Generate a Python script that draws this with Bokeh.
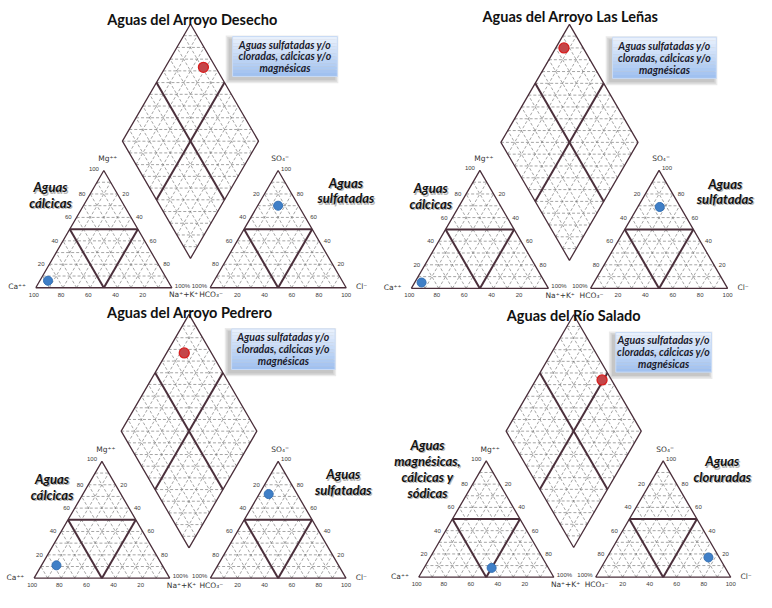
import numpy as np
from bokeh.plotting import figure
from bokeh.models import Range1d
from bokeh.embed import file_html
from bokeh.resources import INLINE
from bokeh.core.properties import value

# ---------------- data ----------------
titles = ["Aguas del Arroyo Desecho", "Aguas del Arroyo Las Leñas",
          "Aguas del Arroyo Pedrero", "Aguas del Río Salado"]
box_lines = ["Aguas sulfatadas y/o", "cloradas, cálcicas y/o", "magnésicas"]
cation_names = [["Aguas", "cálcicas"], ["Aguas", "cálcicas"], ["Aguas", "cálcicas"],
                ["Aguas", "magnésicas,", "cálcicas y", "sódicas"]]
anion_names = [["Aguas", "sulfatadas"], ["Aguas", "sulfatadas"], ["Aguas", "sulfatadas"],
               ["Aguas", "cloruradas"]]

# cations (%)
ca = [88, 90, 78, 42]
mg = [6, 5, 11, 8]
nak = [6, 5, 11, 50]
# anions (%)
hco3 = [15, 15, 21, 8]
so4 = [70, 69, 72, 17]
cl = [15, 16, 7, 75]
# central diamond (%)
camg_d = [72, 94, 87, 51]
so4cl_d = [91, 86, 80, 93]

tick_vals = [20, 40, 60, 80, 100]

# ---------------- layout (image pixel coordinates) ----------------
panels = [
    dict(xl=36, xr=214, yb=295, L=139, dcx=194, dcy=144.5, title=(196, 19),
         box=(237, 344, 37, 78), lab_l=(51, 192), lab_r=(352.7, 187)),
    dict(xl=419.5, xr=602.5, yb=295.7, L=140, dcx=581, dcy=145.7, title=(582, 16.7),
         box=(625, 731, 37.7, 80), lab_l=(439.3, 193), lab_r=(740, 188)),
    dict(xl=34.3, xr=214.3, yb=593.3, L=138.5, dcx=192.5, dcy=442.3, title=(193.3, 320),
         box=(236, 341.7, 337.3, 379), lab_l=(52.7, 491.7), lab_r=(350, 486.7)),
    dict(xl=427, xr=607.7, yb=592.3, L=138, dcx=585.3, dcy=442.3, title=(585.3, 323.3),
         box=(628.3, 726, 341, 381.7), lab_l=(436, 456.7), lab_r=(737, 473.3)),
]

H = np.sqrt(3) / 2


def tri_xy(x0, yb, L, A, B, C):
    return x0 + L * (C + B / 2.0), yb - L * H * B


def dia_xy(q, a, c):
    L = q["L"]
    bx, by = q["dcx"], q["dcy"] + L * H
    return bx + L * 0.5 * (c - a), by - L * H * (a + c)


p = figure(width=756, height=592, x_range=Range1d(0, 772), y_range=Range1d(608, 0),
           output_backend="svg", toolbar_location=None, min_border=0)
p.axis.visible = False
p.grid.visible = False
p.outline_line_color = None
p.background_fill_color = "white"

EDGE = "#4b2f3b"
GRID = "#7e7e7e"

dash_xs, dash_ys = [], []
thick_xs, thick_ys = [], []
edge_xs, edge_ys = [], []

tick_txt = {"right": ([], [], []), "left": ([], [], []), "center": ([], [], [])}
ion_txt = {"right": ([], [], []), "left": ([], [], []), "center": ([], [], [])}


def add_tick(align, x, y, t, store=tick_txt):
    store[align][0].append(x)
    store[align][1].append(y)
    store[align][2].append(t)


for q in panels:
    L, yb = q["L"], q["yb"]
    for x0 in (q["xl"], q["xr"]):
        pts = [tri_xy(x0, yb, L, 1, 0, 0), tri_xy(x0, yb, L, 0, 1, 0),
               tri_xy(x0, yb, L, 0, 0, 1), tri_xy(x0, yb, L, 1, 0, 0)]
        edge_xs.append([t[0] for t in pts])
        edge_ys.append([t[1] for t in pts])
        for i in range(1, 10):
            f = i / 10.0
            segs = [((1 - f, f, 0), (0, f, 1 - f)),
                    ((1 - f, 0, f), (0, 1 - f, f)),
                    ((f, 0, 1 - f), (f, 1 - f, 0))]
            for s0, s1 in segs:
                a0 = tri_xy(x0, yb, L, *s0)
                a1 = tri_xy(x0, yb, L, *s1)
                if i == 5:
                    thick_xs.append([a0[0], a1[0]])
                    thick_ys.append([a0[1], a1[1]])
                else:
                    dash_xs.append([a0[0], a1[0]])
                    dash_ys.append([a0[1], a1[1]])
    pts = [dia_xy(q, 0, 0), dia_xy(q, 1, 0), dia_xy(q, 1, 1), dia_xy(q, 0, 1), dia_xy(q, 0, 0)]
    edge_xs.append([t[0] for t in pts])
    edge_ys.append([t[1] for t in pts])
    for i in range(1, 10):
        f = i / 10.0
        for s0, s1 in (((f, 0), (f, 1)), ((0, f), (1, f))):
            a0 = dia_xy(q, *s0)
            a1 = dia_xy(q, *s1)
            if i == 5:
                thick_xs.append([a0[0], a1[0]])
                thick_ys.append([a0[1], a1[1]])
            else:
                dash_xs.append([a0[0], a1[0]])
                dash_ys.append([a0[1], a1[1]])
    for k in range(1, 20):
        t = k / 10.0
        if t <= 1:
            a0, a1 = dia_xy(q, t, 0), dia_xy(q, 0, t)
        else:
            a0, a1 = dia_xy(q, 1, t - 1), dia_xy(q, t - 1, 1)
        dash_xs.append([a0[0], a1[0]])
        dash_ys.append([a0[1], a1[1]])

    xl, xr = q["xl"], q["xr"]
    for v in tick_vals:
        x, y = tri_xy(xl, yb, L, 1 - v / 100, v / 100, 0)
        add_tick("right", x - 5, y - (2 if v == 100 else 0), str(v))
        x, y = tri_xy(xl, yb, L, v / 100, 0, 1 - v / 100)
        add_tick("center", x - 2, y + 7, str(v))
    for v in tick_vals[:-1]:
        x, y = tri_xy(xl, yb, L, 0, 1 - v / 100, v / 100)
        add_tick("left", x + 5, y, str(v))
    x, y = tri_xy(xl, yb, L, 0, 0, 1)
    add_tick("left", x + 3, y - 2, "100%")
    for v in tick_vals[:-1]:
        x, y = tri_xy(xr, yb, L, v / 100, 1 - v / 100, 0)
        add_tick("right", x - 5, y, str(v))
    x, y = tri_xy(xr, yb, L, 1, 0, 0)
    add_tick("right", x - 3, y - 2, "100%")
    for v in tick_vals:
        x, y = tri_xy(xr, yb, L, 0, v / 100, 1 - v / 100)
        add_tick("left", x + (3 if v == 100 else 5), y - (2 if v == 100 else 0), str(v))
        x, y = tri_xy(xr, yb, L, 1 - v / 100, 0, v / 100)
        add_tick("center", x, y + 7, str(v))

    x, y = tri_xy(xl, yb, L, 1, 0, 0)
    add_tick("right", x - 10, y - 1, "Ca⁺⁺", ion_txt)
    x, y = tri_xy(xl, yb, L, 0, 1, 0)
    add_tick("center", x + 4, y - 12, "Mg⁺⁺", ion_txt)
    x, y = tri_xy(xl, yb, L, 0, 0, 1)
    add_tick("center", x + 12, y + 7, "Na⁺+K⁺", ion_txt)
    x, y = tri_xy(xr, yb, L, 1, 0, 0)
    add_tick("center", x + 1, y + 7, "HCO₃⁻", ion_txt)
    x, y = tri_xy(xr, yb, L, 0, 1, 0)
    add_tick("center", x + 2, y - 12, "SO₄⁼", ion_txt)
    x, y = tri_xy(xr, yb, L, 0, 0, 1)
    add_tick("left", x + 10, y - 1, "Cl⁻", ion_txt)

p.multi_line(dash_xs, dash_ys, line_color=GRID, line_width=0.7, line_dash="3 2")
p.multi_line(edge_xs, edge_ys, line_color=EDGE, line_width=1.3)
p.multi_line(thick_xs, thick_ys, line_color=EDGE, line_width=2.0)

for align, (xs, ys, ts) in tick_txt.items():
    p.text(xs, ys, text=ts, text_font=value("Liberation Sans"), text_font_size="6px",
           text_color="#3a3a3a", text_align=align, text_baseline="middle")
for align, (xs, ys, ts) in ion_txt.items():
    p.text(xs, ys, text=ts, text_font=value("DejaVu Sans"), text_font_size="7.5px",
           text_color="#333333", text_align=align, text_baseline="middle")

cx, cy, ax_, ay_, dx, dy = [], [], [], [], [], []
for k, q in enumerate(panels):
    x, y = tri_xy(q["xl"], q["yb"], q["L"], ca[k] / 100, mg[k] / 100, nak[k] / 100)
    cx.append(x); cy.append(y)
    x, y = tri_xy(q["xr"], q["yb"], q["L"], hco3[k] / 100, so4[k] / 100, cl[k] / 100)
    ax_.append(x); ay_.append(y)
    x, y = dia_xy(q, camg_d[k] / 100, so4cl_d[k] / 100)
    dx.append(x); dy.append(y)
p.scatter(cx + ax_, cy + ay_, size=9, fill_color="#3f7fc7", line_color="#3470b4", line_width=1)
p.scatter(dx, dy, size=10, fill_color="#c44649", line_color="#d81f1f", line_width=1.3)

top_c = np.array([232, 240, 252])
bot_c = np.array([160, 193, 240])
for q in panels:
    l, r, t, b = q["box"]
    for s in range(3):
        e = 1.5 * s
        p.quad(left=l - 4 - e, right=r - 2 + e, top=t + 2 - e, bottom=b + 4 + e,
               fill_color="#555555", fill_alpha=0.12, line_color=None)
    n = 12
    for i in range(n):
        c = top_c + (bot_c - top_c) * i / (n - 1)
        col = "#%02x%02x%02x" % tuple(int(round(v)) for v in c)
        p.quad(left=l, right=r, top=t + (b - t) * i / n, bottom=t + (b - t) * (i + 1) / n,
               fill_color=col, line_color=None)
    p.quad(left=l, right=r, top=t, bottom=b, fill_color=None, line_color="#c9dbf5", line_width=1)
    cxm = (l + r) / 2
    cym = (t + b) / 2
    p.text([cxm] * 3, [cym - 12.3, cym, cym + 12.3], text=box_lines,
           text_font=value("Lato"), text_font_style="bold italic", text_font_size="10.5px",
           text_color="#1b1b2c", text_align="center", text_baseline="middle")

p.text([q["title"][0] for q in panels], [q["title"][1] for q in panels], text=titles,
       text_font=value("Lato"), text_font_style="bold", text_font_size="14.5px",
       text_color="#111111", text_align="center", text_baseline="middle")

lx, ly, lt = [], [], []
for k, q in enumerate(panels):
    for j, s in enumerate(cation_names[k]):
        lx.append(q["lab_l"][0]); ly.append(q["lab_l"][1] + 16.2 * j); lt.append(s)
    for j, s in enumerate(anion_names[k]):
        lx.append(q["lab_r"][0]); ly.append(q["lab_r"][1] + 16.2 * j); lt.append(s)
p.text([x + 1.2 for x in lx], [y + 1.2 for y in ly], text=lt,
       text_font=value("Lato"), text_font_style="bold italic", text_font_size="13px",
       text_color="#b5b5b5", text_align="center", text_baseline="middle")
p.text(lx, ly, text=lt,
       text_font=value("Lato"), text_font_style="bold italic", text_font_size="13px",
       text_color="#111111", text_align="center", text_baseline="middle")

open("out.html", "w").write(file_html(p, INLINE))
